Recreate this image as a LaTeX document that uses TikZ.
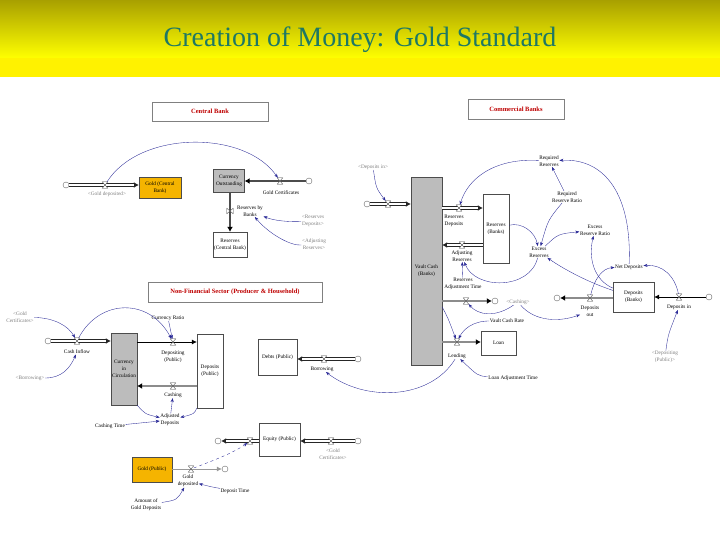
\documentclass[tikz,border=0pt]{standalone}
\usepackage{fontspec}
\setmainfont{Liberation Serif}
\usetikzlibrary{arrows.meta}

\definecolor{linkblue}{RGB}{40,40,150}
\definecolor{titleteal}{RGB}{30,120,100}
\definecolor{goldfill}{RGB}{245,180,0}
\definecolor{stockgray}{RGB}{188,188,188}
\definecolor{bannertop}{RGB}{168,160,0}
\definecolor{sectionred}{RGB}{190,0,0}

\begin{document}
\begin{tikzpicture}[x=1pt, y=-1pt, >={Stealth[length=4pt,width=3pt]},
    lbl/.style={font=\fontsize{5.3}{6.8}\selectfont, align=center, inner sep=0.5pt},
    shadowlbl/.style={lbl, text=black!50},
    stock/.style={lbl, draw=black!70, line width=0.4pt, fill=white},
    section/.style={draw=black!50, line width=0.4pt, font=\fontsize{6.5}{7}\selectfont\bfseries, text=sectionred},
    cloud/.style={circle, draw=black!60, line width=0.4pt, minimum size=6pt, inner sep=0pt},
    valve/.style={minimum width=5pt, minimum height=6pt, inner sep=0pt},
    pipe/.style={draw=black!85, line width=3.2pt, -{Latex[length=5pt,width=6pt]},
        postaction={draw=white, line width=1.6pt, -, shorten >=5pt}},
    darkflow/.style={draw=black!70, line width=2.2pt, -{Latex[length=5pt,width=6pt,color=black]}},
    grayflow/.style={draw=black!45, line width=2.5pt, -{Latex[length=5pt,width=6pt,color=black]}},
    thinflow/.style={draw=black, line width=0.6pt, -{Latex[length=5pt,width=5pt]}},
    link/.style={draw=linkblue, line width=0.35pt, ->}]

    % Banner
    \useasboundingbox (0,0) rectangle (720,540);
    \shade[top color=bannertop, bottom color=yellow] (0,0) rectangle (720,58);
    \fill[yellow] (0,58) rectangle (720,77);
    \node[font=\fontsize{28}{30}\selectfont, text=titleteal] (title) at (360,40) {Creation of Money: Gold Standard};

    % Section headers
    \node[section, minimum width=116pt, minimum height=19pt] (cbhead) at (210,111.5) {Central Bank};
    \node[section, minimum width=96pt, minimum height=20pt] (combhead) at (516,109) {Commercial Banks};
    \node[section, minimum width=174pt, minimum height=20pt] (nfshead) at (235,292) {Non-Financial Sector (Producer \& Household)};

    % Stocks
    \node[stock, fill=goldfill, minimum width=42pt, minimum height=21pt] (goldcb) at (160,187.5) {Gold (Central\\Bank)};
    \node[stock, fill=stockgray, minimum width=31pt, minimum height=23pt] (curout) at (229,180.5) {Currency\\Outstanding};
    \node[stock, minimum width=34pt, minimum height=25pt] (rescb) at (230,244.5) {Reserves\\(Central Bank)};
    \node[stock, fill=stockgray, minimum width=31pt, minimum height=188pt] (vault) at (426.5,271) {Vault Cash\\(Banks)};
    \node[stock, minimum width=26pt, minimum height=69pt] (resbk) at (496,228.5) {Reserves\\(Banks)};
    \node[stock, minimum width=41pt, minimum height=30pt] (depbk) at (633.5,297) {Deposits\\(Banks)};
    \node[stock, minimum width=35pt, minimum height=24pt] (loan) at (498.5,343) {Loan};
    \node[stock, fill=stockgray, minimum width=26pt, minimum height=72pt] (cic) at (124,369) {Currency\\in\\Circulation};
    \node[stock, minimum width=26pt, minimum height=74pt] (deppub) at (210,371) {Deposits\\(Public)};
    \node[stock, minimum width=39pt, minimum height=36pt] (debts) at (277.5,357) {Debts (Public)};
    \node[stock, minimum width=41pt, minimum height=33pt] (equity) at (279.5,439.5) {Equity (Public)};
    \node[stock, fill=goldfill, minimum width=40pt, minimum height=25pt] (goldpub) at (152,469.5) {Gold (Public)};

    % Clouds
    \node[cloud] (c1) at (66,185) {};
    \node[cloud] (c2) at (309,181) {};
    \node[cloud] (c3) at (367,204) {};
    \node[cloud] (c4) at (495,301) {};
    \node[cloud] (c5) at (557,298) {};
    \node[cloud] (c6) at (709,297) {};
    \node[cloud] (c7) at (48,341) {};
    \node[cloud] (c8) at (358,359) {};
    \node[cloud] (c9) at (358,441) {};
    \node[cloud] (c10) at (218,441) {};
    \node[cloud] (c11) at (225,469) {};

    % Valves
    \node[valve] (vgolddep) at (105,185) {};
    \node[valve] (vgoldcert) at (280,181) {};
    \node[valve, minimum width=6pt, minimum height=5pt] (vresbank) at (230,211) {};
    \node[valve] (vdepin) at (388,204) {};
    \node[valve] (vresdep) at (459,208) {};
    \node[valve] (vadjres) at (462,245) {};
    \node[valve] (vcashout) at (466,301) {};
    \node[valve] (vlend) at (457,342) {};
    \node[valve] (vdepout) at (590,298) {};
    \node[valve] (vdepinbk) at (679,297) {};
    \node[valve] (vcashin) at (77,341) {};
    \node[valve] (vdeposit) at (173,342) {};
    \node[valve] (vcashing) at (173,386) {};
    \node[valve] (vborrow) at (324,359) {};
    \node[valve] (vequityin) at (331,441) {};
    \node[valve] (vequityout) at (250,441) {};
    \node[valve] (vgoldpub) at (191,469) {};

    % Flows
    \draw[pipe] (c1) -- (goldcb.west |- c1);
    \draw[darkflow] (c2) -- (curout.east |- c2);
    \draw[darkflow] (vresbank |- curout.south) -- (vresbank |- rescb.north);
    \draw[pipe] (c3) -- (vault.west |- c3);
    \draw[pipe] (vault.east |- vresdep) -- (resbk.west |- vresdep);
    \draw[pipe] (resbk.west |- vadjres) -- (vault.east |- vadjres);
    \draw[grayflow] (vault.east |- vcashout) -- (c4);
    \draw[grayflow] (vault.east |- vlend) -- (loan.west |- vlend);
    \draw[grayflow] (depbk.west |- vdepout) -- (c5);
    \draw[thinflow] (c6) -- (depbk.east |- c6);
    \draw[pipe] (c7) -- (cic.west |- c7);
    \draw[thinflow] (cic.east |- vdeposit) -- (deppub.west |- vdeposit);
    \draw[grayflow] (deppub.west |- vcashing) -- (cic.east |- vcashing);
    \draw[pipe] (c8) -- (debts.east |- c8);
    \draw[pipe] (c9) -- (equity.east |- c9);
    \draw[pipe] (equity.west |- c10) -- (c10);
    \draw[thinflow, draw=black!40] (goldpub.east |- c11) -- (c11);

    % Valve symbols
    \foreach \v in {vgolddep, vgoldcert, vdepin, vresdep, vadjres, vcashout, vlend, vdepout,
                    vdepinbk, vcashin, vdeposit, vcashing, vborrow, vequityin, vequityout, vgoldpub}
        \filldraw[fill=white, draw=black!75, line width=0.35pt]
            (\v.north west) -- (\v.north east) -- (\v.south west) -- (\v.south east) -- cycle;
    \filldraw[fill=white, draw=black!75, line width=0.35pt]
        (vresbank.north west) -- (vresbank.south west) -- (vresbank.north east) -- (vresbank.south east) -- cycle;

    % Central bank variables
    \node[shadowlbl] (lgolddepcb) at (107,194) {<Gold deposited>};
    \node[lbl] (lgoldcert) at (281,193) {Gold Certificates};
    \node[lbl] (lresbank) at (250,211) {Reserves by\\Banks};
    \node[shadowlbl] (lresdepcb) at (313,221) {<Reserves\\Deposits>};
    \node[shadowlbl] (ladjcb) at (314,244) {<Adjusting\\Reserves>};

    % Commercial bank variables
    \node[shadowlbl] (ldepin) at (373,167) {<Deposits in>};
    \node[lbl] (lresdep) at (454,221) {Reserves\\Deposits};
    \node[lbl] (ladjres) at (462,256) {Adjusting\\Reserves};
    \node[lbl] (lreqres) at (549,161) {Required\\Reserves};
    \node[lbl] (lreqratio) at (567,197) {Required\\Reserve Ratio};
    \node[lbl] (lexcess) at (539,252) {Excess\\Reserves};
    \node[lbl] (lexratio) at (595,230) {Excess\\Reserve Ratio};
    \node[lbl] (lnetdep) at (629,267) {Net Deposits};
    \node[lbl] (lresadjt) at (463,284) {Reserves\\Adjustment Time};
    \node[shadowlbl] (lcashingv) at (518,302) {<Cashing>};
    \node[lbl] (lvcrate) at (507,321) {Vault Cash Rate};
    \node[lbl] (llend) at (457,356) {Lending};
    \node[lbl] (lloanadj) at (513,378) {Loan Adjustment Time};
    \node[lbl] (ldepout) at (590,311) {Deposits\\out};
    \node[lbl] (ldepinbk) at (679,307) {Deposits in};
    \node[shadowlbl] (ldepositv) at (665,357) {<Depositing\\(Public)>};

    % Public sector variables
    \node[shadowlbl] (lgoldcertv) at (20,317) {<Gold\\Certificates>};
    \node[lbl] (lcurratio) at (168,318) {Currency Ratio};
    \node[lbl] (lcashin) at (77,352) {Cash Inflow};
    \node[shadowlbl] (lborrowv) at (30,378) {<Borrowing>};
    \node[lbl] (ldeposit) at (173,357) {Depositing\\(Public)};
    \node[lbl] (lcashing) at (173,395) {Cashing};
    \node[lbl] (ladjdep) at (170,420) {Adjusted\\Deposits};
    \node[lbl] (lcashtime) at (110,426) {Cashing Time};
    \node[lbl] (lborrow) at (322,369) {Borrowing};
    \node[shadowlbl] (lgoldcertv2) at (333,454) {<Gold\\Certificates>};
    \node[lbl] (lgolddep) at (188,481) {Gold\\deposited};
    \node[lbl] (ldeptime) at (235,491) {Deposit Time};
    \node[lbl] (lamount) at (146,505) {Amount of\\Gold Deposits};

    % Links
    \draw[link] (vgolddep) .. controls (140,130) and (245,130) .. (vgoldcert);
    \draw[link] (lresdepcb) .. controls (290,222) and (275,221) .. (lresbank);
    \draw[link] (ladjcb) .. controls (290,246) and (268,233) .. (lresbank);
    \draw[link] (ldepin) .. controls (376,188) .. (vdepin);
    \draw[link] (lreqres) .. controls (495,158) and (468,178) .. (vresdep);
    \draw[link] (lreqratio) -- (lreqres);
    \draw[link] (lreqratio) .. controls (548,220) .. (lexcess);
    \draw[link] (resbk) .. controls (522,222) and (535,232) .. (lexcess);
    \draw[link] (lexcess) .. controls (558,234) .. (lexratio);
    \draw[link] (depbk) .. controls (594,280) and (588,258) .. (lexratio);
    \draw[link] (depbk) .. controls (590,283) and (565,270) .. (lexcess);
    \draw[link] (vdepout) .. controls (594,280) and (602,268) .. (lnetdep);
    \draw[link] (vdepinbk) .. controls (675,276) and (662,264) .. (lnetdep);
    \draw[link] (lnetdep) .. controls (632,195) and (605,158) .. (lreqres);
    \draw[link] (lexcess) .. controls (530,290) and (475,290) .. (ladjres);
    \draw[link] (lresadjt) -- (ladjres);
    \draw[link] (lcashingv) .. controls (495,318) and (478,315) .. (vcashout);
    \draw[link] (lcashingv) .. controls (535,322) and (560,322) .. (ldepout);
    \draw[link] (lvcrate) .. controls (472,321) and (463,330) .. (vlend);
    \draw[link] (vault.east |- 0,307) .. controls (448,318) .. (vlend);
    \draw[link] (lloanadj) .. controls (478,376) .. (llend);
    \draw[link] (llend) .. controls (430,400) and (365,402) .. (lborrow);
    \draw[link] (ldepositv) .. controls (668,335) .. (ldepinbk);
    \draw[link] (lgoldcertv) .. controls (55,318) and (68,326) .. (vcashin);
    \draw[link] (lborrowv) .. controls (62,378) and (70,368) .. (lcashin);
    \draw[link] (vcashin) .. controls (100,298) and (150,298) .. (vdeposit);
    \draw[link] (lcurratio) -- (vdeposit);
    \draw[link] (ladjdep) -- (lcashing);
    \draw[link] (cic.south east) .. controls (145,414) .. (ladjdep);
    \draw[link] (deppub.south west) .. controls (194,414) .. (ladjdep);
    \draw[link] (lcashtime) -- (ladjdep);
    \draw[link, dashed] (vgoldpub) .. controls (215,460) and (235,452) .. (vequityout);
    \draw[link] (ldeptime) .. controls (212,487) .. (lgolddep);
    \draw[link] (lamount) .. controls (177,500) .. (lgolddep);
\end{tikzpicture}
\end{document}
